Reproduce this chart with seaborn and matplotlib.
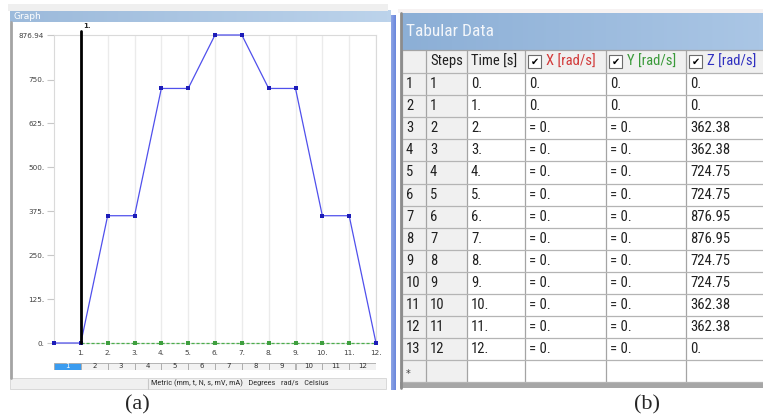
import matplotlib.pyplot as plt
from matplotlib.patches import Rectangle
from matplotlib.colors import LinearSegmentedColormap
from matplotlib import font_manager
import numpy as np
import pandas as pd
import seaborn as sns

time_s = [0, 1, 2, 3, 4, 5, 6, 7, 8, 9, 10, 11, 12]
steps = [1, 1, 2, 3, 4, 5, 6, 7, 8, 9, 10, 11, 12]
x_rad = [0, 0, 0, 0, 0, 0, 0, 0, 0, 0, 0, 0, 0]
y_rad = [0, 0, 0, 0, 0, 0, 0, 0, 0, 0, 0, 0, 0]
z_rad = [0, 0, 362.38, 362.38, 724.75, 724.75, 876.95, 876.95, 724.75, 724.75, 362.38, 362.38, 0]

y_ticks = [0, 125, 250, 375, 500, 625, 750, 876.94]
y_tick_labels = ["0.", "125.", "250.", "375.", "500.", "625.", "750.", "876.94"]
x_tick_labels = ["1.", "2.", "3.", "4.", "5.", "6.", "7.", "8.", "9.", "10.", "11.", "12."]
step_labels = ["1", "2", "3", "4", "5", "6", "7", "8", "9", "10", "11", "12"]
status_text = "Metric (mm, t, N, s, mV, mA)   Degrees   rad/s   Celsius"
headers = ["Steps", "Time [s]", "X [rad/s]", "Y [rad/s]", "Z [rad/s]"]

df = pd.DataFrame({"Time": time_s, "Step": steps, "X": x_rad, "Y": y_rad, "Z": z_rad})

W, H = 763, 418


def rect(x0, y0, x1, y1):
    return [x0 / W, 1 - y1 / H, (x1 - x0) / W, (y1 - y0) / H]


def pick_font(names):
    have = {f.name for f in font_manager.fontManager.ttflist}
    for n in names:
        if n in have:
            return n
    return "DejaVu Sans"


def fmt(v):
    return f"{v:.2f}".rstrip("0")


sns.set_style("white")
plt.rcParams["font.family"] = ["DejaVu Sans"]
narrow = pick_font(["Liberation Sans Narrow", "Roboto Condensed", "Open Sans"])
serif = pick_font(["Liberation Serif", "DejaVu Serif"])

fig = plt.figure(figsize=(W / 100, H / 100), dpi=100)
bg = fig.add_axes([0, 0, 1, 1], zorder=0)
bg.axis("off")


def gradient(x0, y0, x1, y1, c0, c1):
    cm = LinearSegmentedColormap.from_list("g", [c0, c1])
    bg.imshow(np.linspace(0, 1, 64)[None, :], extent=(x0, x1, y1, y0), cmap=cm, aspect="auto",
              interpolation="bilinear")


# ---------------- graph panel (a) ----------------
bg.add_patch(Rectangle((8, 4), 380, 7, fc="#efefef", ec="none"))
gradient(10, 10, 391, 22, "#9cbadb", "#bcd3eb")
bg.text(13, 16.5, "Graph", color="white", fontsize=6.5, va="center")
bg.add_patch(Rectangle((10, 22), 381, 356, fc="white", ec="none"))
bg.plot([11, 11], [22, 378], color="#a4a4a4", lw=2)
gradient(391, 15, 396, 390, "#8ea6e6", "#6a86dc")

# status bar
bg.add_patch(Rectangle((10, 378), 376, 11, fc="#f0f0f0", ec="#d4d4d4", lw=0.6))
bg.plot([148, 148], [379, 389], color="#c8c8c8", lw=0.8)
bg.text(151, 383.5, status_text, fontsize=6.0, va="center", color="#303030", family=narrow)

ax = fig.add_axes(rect(54, 35, 376, 343), zorder=2)
sns.lineplot(data=df[df["Time"] >= 1], x="Time", y="Y", ax=ax, color="#4caf4c", lw=0.9,
             linestyle=(0, (2.5, 1.5)), marker="s", markersize=2.6, markeredgewidth=0,
             markerfacecolor="#3f9f3f", clip_on=False, zorder=3)
sns.lineplot(data=df, x="Time", y="Z", ax=ax, color="#5050ec", lw=0.9, marker="s",
             markersize=2.4, markeredgewidth=0, markerfacecolor="#1c1cb8", clip_on=False, zorder=4)
ax.axvline(1, ymin=0, ymax=1.012, color="black", lw=2, clip_on=False, zorder=5)
ax.annotate("1.", xy=(1, 1.012), xycoords=("data", "axes fraction"), xytext=(1.5, 2),
            textcoords="offset points", fontsize=5, fontweight="bold", va="bottom")

ax.set_xlim(0, 12)
ax.set_ylim(0, 876.94)
ax.set_xticks(time_s[1:])
ax.set_xticklabels(x_tick_labels)
ax.set_yticks(y_ticks)
ax.set_yticklabels(y_tick_labels)
ax.set_xlabel("")
ax.set_ylabel("")
ax.xaxis.grid(True, color="#ebebeb", lw=1)
ax.yaxis.grid(False)
ax.tick_params(axis="x", length=0, labelsize=5.2, colors="#404040", pad=5)
ax.tick_params(axis="y", length=5, width=0.8, color="#c8c8c8", labelsize=5.2, labelcolor="#404040", pad=2,
               left=True)
for s in ax.spines.values():
    s.set_color("#dadada")
    s.set_linewidth(0.8)

# step selector below the graph
sb = fig.add_axes(rect(54, 363, 376, 370), zorder=2)
sb.set_xlim(0, 12)
sb.set_ylim(0, 1)
sb.axis("off")
for i, lab in enumerate(step_labels):
    first = i == 0
    sb.add_patch(Rectangle((i, 0), 1, 1, fc="#3a9cf0" if first else "#f2f2f2", ec="#a8a8a8", lw=0.6))
    sb.text(i + 0.5, 0.5, lab, ha="center", va="center", fontsize=5,
            color="white" if first else "#303030")

# ---------------- tabular panel (b) ----------------
bg.add_patch(Rectangle((398, 9), 365, 4, fc="#f6f2f2", ec="none"))
gradient(402, 13, 763, 50, "#8cafd6", "#aac6e5")
bg.text(406, 32, "Tabular Data", color="#f3f6fa", fontsize=12.5, va="center", family=narrow)

cols = [402, 426, 467, 525, 606, 686, 763]
row_h = 22.1
top = 73
n_rows = len(time_s) + 1
bottom = top + n_rows * row_h

bg.add_patch(Rectangle((402, 50), 361, 23, fc="#f0f0f0", ec="none"))
bg.add_patch(Rectangle((402, top), 65, bottom - top, fc="#f0f0f0", ec="none"))
bg.add_patch(Rectangle((467, top), 296, bottom - top, fc="white", ec="none"))
for x in cols[:-1]:
    bg.plot([x, x], [50, bottom], color="#a4a4a4", lw=0.9)
for r in range(n_rows + 1):
    y = top + r * row_h
    bg.plot([402, 763], [y, y], color="#b4b4b4", lw=0.9)
bg.plot([402, 763], [50, 50], color="#a4a4a4", lw=0.9)
bg.add_patch(Rectangle((400, bottom), 363, 6, fc="#a6a6a6", ec="none"))
bg.plot([401, 401], [13, bottom + 6], color="#8c8c8c", lw=2)

tfs = 10.5
hy = 61.5
bg.text(430, hy, headers[0], fontsize=tfs, va="center", family=narrow, color="#202020")
bg.text(471, hy, headers[1], fontsize=tfs, va="center", family=narrow, color="#202020")
for c, lab, col in zip(cols[3:6], headers[2:], ["#d23a3a", "#3a9a3a", "#3030c0"]):
    bg.add_patch(Rectangle((c + 3, 55), 13, 13, fc="white", ec="#6c6c6c", lw=0.8))
    bg.text(c + 9.5, 61.8, "\u2714", fontsize=7, ha="center", va="center", color="black")
    bg.text(c + 21, hy, lab, fontsize=tfs, va="center", family=narrow, color=col)

for i in range(len(time_s)):
    y = top + (i + 0.5) * row_h
    pre = "= " if i >= 2 else ""
    cells = [str(i + 1), str(steps[i]), fmt(time_s[i]), pre + fmt(x_rad[i]), pre + fmt(y_rad[i]),
             fmt(z_rad[i])]
    for c, txt in zip(cols[:6], cells):
        bg.text(c + 4, y, txt, fontsize=tfs, va="center", family=narrow, color="#202020")
bg.text(406, top + (n_rows - 0.4) * row_h, "*", fontsize=7, va="center", color="#404040")

# captions
bg.text(137, 405, "(a)", fontsize=16, ha="center", va="center", family=serif)
bg.text(647, 405, "(b)", fontsize=16, ha="center", va="center", family=serif)

bg.set_xlim(0, W)
bg.set_ylim(H, 0)

fig.savefig("out.png", dpi=100)
